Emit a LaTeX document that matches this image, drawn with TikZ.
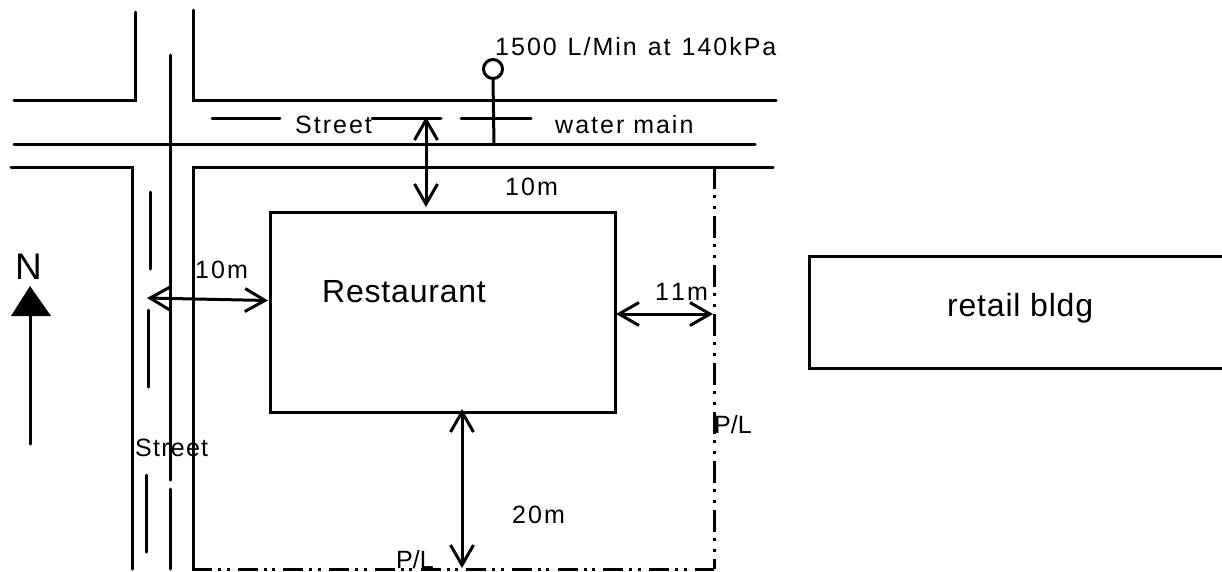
\documentclass[tikz,border=0pt]{standalone}
\usepackage{fontspec}
\setmainfont{Liberation Sans}
\newfontfamily\spaced[LetterSpace=8]{Liberation Sans}
\newfontfamily\spacedc[LetterSpace=5]{Liberation Sans}
\newfontfamily\spacedb[LetterSpace=2.5]{Liberation Sans}
\usetikzlibrary{arrows.meta}
\tikzset{
  plan/.style={line width=3pt,line cap=round,line join=miter,black},
  plline/.style={line width=3pt,black,dash pattern=on 22pt off 5.5pt on 3pt off 8pt on 3pt off 7.5pt},
  pllineb/.style={line width=3pt,black,dash pattern=on 20pt off 6pt on 3pt off 5.5pt on 3pt off 8.2pt},
  dim/.style={line width=3pt,black,{Straight Barb[length=20pt,width=23pt,line width=3pt]}-{Straight Barb[length=20pt,width=23pt,line width=3pt]}},
  lab/.style={inner sep=0pt,anchor=base west,text=black},
  smalllab/.style={lab,font=\spaced\fontsize{25}{25}\selectfont},
  plainlab/.style={lab,font=\spacedc\fontsize{25}{25}\selectfont},
  pllab/.style={lab,font=\fontsize{25}{25}\selectfont},
  biglab/.style={lab,font=\spacedb\fontsize{32}{32}\selectfont}
}
\begin{document}
\begin{tikzpicture}[x=1pt,y=-1pt]
\useasboundingbox (0,0) rectangle (1222,571);
% streets
\draw[plan] (14,100) -- (135,100) -- (135,12);
\draw[plan] (776,100) -- (193.5,100) -- (193.5,10);
\draw[plan] (14,144.5) -- (755,144.5);
\draw[plan] (11,167) -- (132,167) -- (132,569);
\draw[plan] (773,167) -- (193.5,167) -- (193.5,569);
\draw[plan] (170,55) -- (170,480);
\draw[plan] (170,489) -- (170,569);
% centre-line dashes
\draw[plan] (212,118.5) -- (280,118.5);
\draw[plan] (372,118.5) -- (441,118.5);
\draw[plan] (461,118.5) -- (531,118.5);
\draw[plan] (150,192) -- (150,269);
\draw[plan] (148,310) -- (148,387);
\draw[plan] (146,475) -- (146,552);
% property line
\draw[plline] (714,167) -- (714,569);
\draw[pllineb] (192,569) -- (714,569);
% hydrant
\node[circle,draw=black,line width=3pt,minimum size=19pt,inner sep=0pt] (hyd) at (493,69) {};
\coordinate (hydfoot) at (494,144.5);
\draw[plan] (hyd.south) -- (hydfoot);
% buildings
\node[draw=black,line width=3pt,minimum width=345pt,minimum height=200pt,inner sep=0pt] (rest) at (442.5,312) {};
\node[draw=black,line width=3pt,minimum width=500pt,minimum height=112pt,inner sep=0pt,anchor=west] (retail) at (807.5,312) {};
\useasboundingbox (0,0) rectangle (1222,571);
% dimension arrows
\coordinate (topend) at (426,117);
\coordinate (restN) at (426,207);
\coordinate (leftend) at (147,298);
\coordinate (restW) at (268,300.5);
\coordinate (restE) at (616,314);
\coordinate (plE) at (713,314);
\coordinate (restS) at (462,409);
\coordinate (plS) at (462,568);
\draw[dim] (topend) -- (restN);
\draw[dim] (leftend) -- (restW);
\draw[dim] (restE) -- (plE);
\draw[dim] (restS) -- (plS);
% north arrow
\coordinate (nfoot) at (30,444);
\coordinate (nbase) at (30,316);
\node[fill=black,inner sep=0pt,minimum size=0pt] (napex) at (30,286) {};
\fill[black] (napex.center) -- (51,316) -- (11,316) -- cycle;
\draw[line width=3pt,line cap=round] (nfoot) -- (nbase);
% labels
\node[smalllab] (flow) at (495,55) {1500\kern2pt{} L/Min\kern2pt{} at\kern2pt{} 140kPa};
\node[smalllab] (st1) at (295,133) {Street};
\node[smalllab] (wm) at (555,133) {w\kern2pt ater main};
\node[smalllab] (d10a) at (505,195) {10m};
\node[smalllab] (d10b) at (195,278) {10m};
\node[smalllab] (d11) at (655,300) {1\kern2pt 1m};
\node[smalllab] (d20) at (512,523) {20m};
\node[plainlab] (st2) at (135,456) {Street};
\node[pllab] (pl1) at (714,433) {P/L};
\node[pllab] (pl2) at (396,568) {P/L};
\node[lab,font=\fontsize{37}{37}\selectfont] (north) at (15,279) {N};
\node[biglab] (restl) at (322,302) {Restaurant};
\node[biglab] (retl) at (947,316) {retail bldg};
\end{tikzpicture}
\end{document}
